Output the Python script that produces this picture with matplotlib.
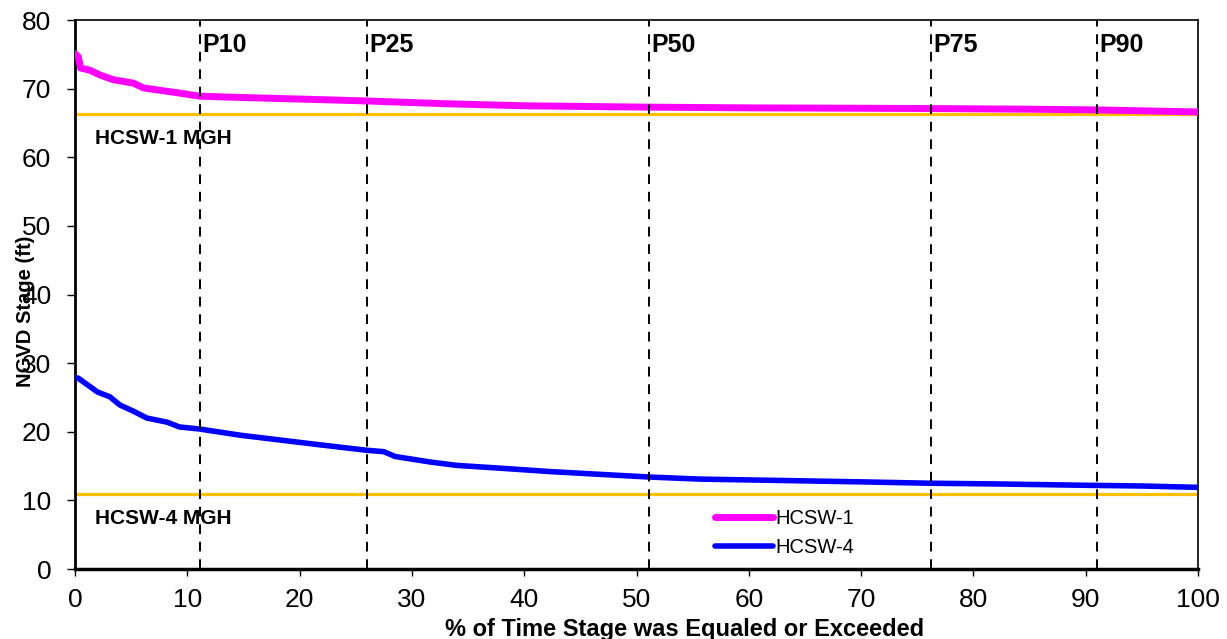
import matplotlib
matplotlib.use("Agg")
import matplotlib.pyplot as plt

plt.rcParams['font.family'] = ['Liberation Sans', 'DejaVu Sans']

# %% data
hcsw1_x = [0, 0.3, 0.5, 1.3, 2.2, 3.4, 5.2, 6.1, 9.1, 11.1, 15, 21.8, 26, 33, 40,
           51.1, 60, 76.2, 85, 91, 100]
hcsw1_y = [75.1, 74.6, 73.0, 72.7, 72.0, 71.3, 70.8, 70.1, 69.4, 68.9, 68.7, 68.4,
           68.2, 67.8, 67.5, 67.3, 67.2, 67.1, 67.0, 66.9, 66.6]

hcsw4_x = [0, 0.3, 2, 3.1, 4, 5.2, 6.4, 8.2, 9.3, 11.1, 14.7, 21.8, 26, 27.5, 28.5,
           31.6, 34, 37.8, 42.3, 46.7, 51.2, 55.7, 63, 70, 76.2, 82, 90, 95, 100]
hcsw4_y = [27.9, 27.8, 25.8, 25.1, 23.9, 23.0, 22.0, 21.4, 20.7, 20.4, 19.5, 18.1,
           17.3, 17.1, 16.4, 15.6, 15.1, 14.7, 14.2, 13.8, 13.4, 13.1, 12.9, 12.7,
           12.5, 12.4, 12.2, 12.1, 11.9]

mgh_levels = [66.3, 11.0]
mgh_labels = ['HCSW-1 MGH', 'HCSW-4 MGH']

pct_x = [11.1, 26.0, 51.1, 76.2, 91.0]
pct_labels = ['P10', 'P25', 'P50', 'P75', 'P90']

# %% plot
fig = plt.figure(figsize=(12.27, 6.39), dpi=100)
ax = fig.add_axes([0.0611, 0.1095, 0.9153, 0.8592])

for lvl in mgh_levels:
    ax.axhline(lvl, color='#FFC000', lw=2.3, zorder=2)

ax.plot(hcsw1_x, hcsw1_y, color='#FF00FF', lw=5, label='HCSW-1', zorder=3,
        solid_capstyle='round')
ax.plot(hcsw4_x, hcsw4_y, color='#0000FF', lw=4, label='HCSW-4', zorder=3,
        solid_capstyle='round')

for px, pl in zip(pct_x, pct_labels):
    ax.axvline(px, color='black', lw=1.4, ls=(0, (5, 4)), zorder=4)
    ax.text(px + 0.25, 76.4, pl, fontsize=18, fontweight='bold', va='center', ha='left')

ax.text(1.8, 62.8, mgh_labels[0], fontsize=15, fontweight='bold', va='center')
ax.text(1.8, 7.4, mgh_labels[1], fontsize=15, fontweight='bold', va='center')

ax.set_xlim(0, 100)
ax.set_ylim(0, 80)
ax.set_xticks(range(0, 101, 10))
ax.set_yticks(range(0, 81, 10))
ax.tick_params(axis='both', labelsize=19, direction='out', width=1)
ax.tick_params(axis='x', length=5, pad=9)
ax.tick_params(axis='y', length=6, pad=11)

for s in ['top', 'right']:
    ax.spines[s].set_linewidth(1.2)
ax.spines['left'].set_linewidth(2)
ax.spines['bottom'].set_linewidth(2.5)

# y label sits over the tick labels, as in the original
ax.set_xlabel('% of Time Stage was Equaled or Exceeded', fontsize=17, fontweight='bold')
ax.xaxis.set_label_coords(0.543, -0.089)
ax.set_ylabel('NGVD Stage (ft)', fontsize=14.5, fontweight='bold')
ax.yaxis.set_label_coords(-0.036, 0.47)

ax.legend(loc='upper left', bbox_to_anchor=(0.583, 0.203), bbox_transform=fig.transFigure,
          frameon=False, fontsize=14.5, handlelength=2.85, handletextpad=0.12,
          labelspacing=0.5, borderpad=0, borderaxespad=0)

fig.savefig('out.png', dpi=100)
